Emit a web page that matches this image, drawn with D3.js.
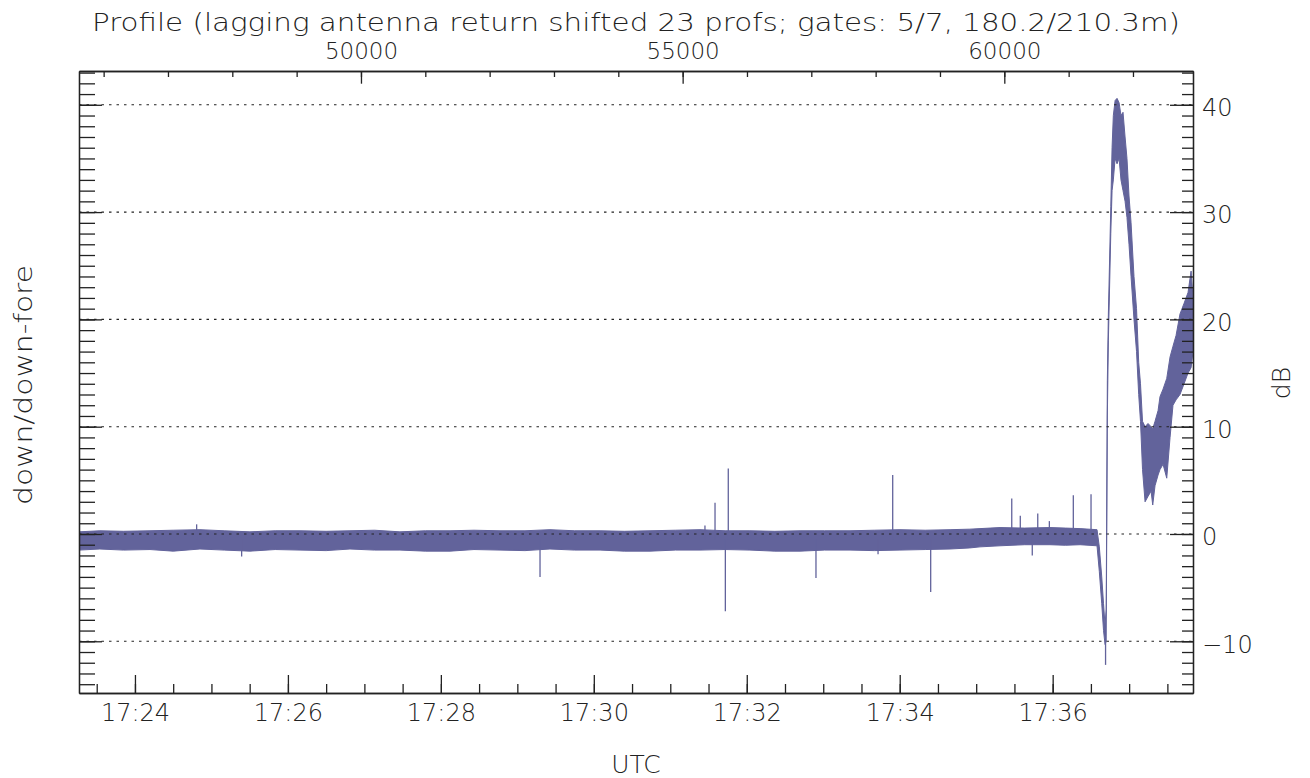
<!DOCTYPE html>
<html>
<head>
<meta charset="utf-8">
<script src="https://cdn.jsdelivr.net/npm/d3@7"></script>
<style>
  body { margin: 0; background: #fff; }
  svg text { font-family: 'DejaVu Sans', sans-serif; font-weight: 200; fill: #222; }
  .axis path, .axis line { stroke: #222; stroke-width: 1.3; }
  .axis text { font-size: 24px; font-family: 'DejaVu Sans', sans-serif; font-weight: 200; fill: #222; }
  .axis.top text { font-size: 23px; }
</style>
</head>
<body>
<svg width="1310" height="778"></svg>
<script>
// time in seconds after 17:00:00 UTC, values in dB
const timeDomain = [1396.1, 2270.1]
const profDomain = [45617, 62933]
const dbDomain = [-14.82, 43.15]

// envelope of the noisy trace
const bandTime = [1396.1, 1412.5, 1431, 1451.8, 1470, 1491.0, 1510, 1530.2, 1550, 1569.5, 1590, 1608.7, 1628, 1647.9, 1668,
  1687.2, 1706, 1726.4, 1746, 1765.6, 1785, 1804.9, 1824, 1844.1, 1864, 1883.3, 1903, 1922.5, 1942, 1961.8, 1981,
  2001.0, 2020, 2040.2, 2060, 2079.5, 2095, 2103.0, 2118.7, 2138, 2157.9, 2170, 2181.5, 2194.8,
  2196.6, 2198.5, 2199.9, 2201.1, 2202.0, 2202.9, 2203.7, 2205.6, 2206.6, 2207.6, 2209.0, 2210.5, 2212.1, 2213.6,
  2215.2, 2216.8, 2218.3, 2219.9, 2221.5, 2223.8, 2225.8, 2227.5, 2228.9, 2230.5, 2232.5, 2234.8, 2237.2, 2238.5,
  2240.3, 2242.7, 2244.2, 2246.6, 2249.5, 2252.1, 2254.4, 2256.8, 2259.9, 2263.1, 2266.2, 2268.6, 2270.1]
const bandLow = [-1.5, -1.4, -1.5, -1.45, -1.6, -1.4, -1.5, -1.6, -1.45, -1.5, -1.55, -1.4, -1.5, -1.5, -1.6,
  -1.6, -1.45, -1.5, -1.55, -1.4, -1.5, -1.5, -1.6, -1.6, -1.5, -1.5, -1.45, -1.5, -1.6, -1.6, -1.5,
  -1.5, -1.55, -1.5, -1.45, -1.4, -1.3, -1.2, -1.1, -1.0, -1.0, -1.05, -1.0, -1.1,
  -3.5, -6.5, -9, -10.3, -10, 11, 18, 28, 32, 33, 35, 34.5, 35, 33,
  32, 31, 29.5, 27, 24, 20, 17, 13, 10.5, 6, 3, 3.5, 4, 2.7,
  4.5, 5.5, 6, 6.5, 5.2, 9, 12, 12.5, 13, 14, 15, 15.5, 17]
const bandHigh = [0.2, 0.3, 0.25, 0.3, 0.35, 0.4, 0.3, 0.2, 0.3, 0.3, 0.25, 0.3, 0.35, 0.2, 0.3,
  0.3, 0.35, 0.3, 0.3, 0.4, 0.3, 0.3, 0.25, 0.3, 0.35, 0.4, 0.3, 0.3, 0.25, 0.3, 0.3,
  0.3, 0.35, 0.4, 0.35, 0.4, 0.45, 0.5, 0.6, 0.55, 0.6, 0.55, 0.5, 0.4,
  -1.2, -4, -6.5, -8.5, -7, 14.3, 20.5, 30.5, 36, 39, 40.4, 40.6, 40.2, 39,
  39.3, 37, 35, 31.5, 29, 24, 21, 16, 14, 10.5, 10, 10.3, 10, 9.8,
  10.5, 11.5, 12.8, 13.5, 14.5, 16.5, 17.5, 18.5, 20.5, 21.5, 22.5, 24.5, 22]

// isolated spikes: time, start value, end value
const spikeTime = [1488.4, 1523.7, 1757.8, 1887.2, 1895.1, 1903.2, 1905.5, 1974.3, 2023.0, 2034.5, 2064.3,
  2127.9, 2134.6, 2144.0, 2148.3, 2157.4, 2176.2, 2190.1, 2201.5]
const spikeFrom = [-0.5, -0.5, -0.5, -0.5, -0.5, -0.5, -0.5, -0.5, -0.5, -0.5, -0.5,
  -0.2, -0.2, -0.2, -0.2, -0.2, -0.2, -0.2, -10]
const spikeTo = [0.9, -2.1, -4.0, 0.8, 2.9, -7.2, 6.1, -4.1, -1.9, 5.5, -5.4,
  3.3, 1.7, -2.0, 1.9, 1.2, 3.6, 3.7, -12.2]

const dbMajor = [-10, 0, 10, 20, 30, 40]
const profMajor = [50000, 55000, 60000]

const titleText = 'Profile (lagging antenna return shifted 23 profs; gates: 5/7, 180.2/210.3m)'
const xTitle = 'UTC'
const yTitleLeft = 'down/down-fore'
const yTitleRight = 'dB'

const svg = d3.select('svg')
const m = { left: 79, right: 1193, top: 71, bottom: 693 }
const lineColor = '#62639b'

const toDate = s => new Date(Date.UTC(2000, 0, 1, 17, 0, 0) + s * 1000)

const x = d3.scaleUtc().domain(timeDomain.map(toDate)).range([m.left, m.right])
const xp = d3.scaleLinear().domain(profDomain).range([m.left, m.right])
const y = d3.scaleLinear().domain(dbDomain).range([m.bottom, m.top])

const band = bandTime.map((t, i) => ({ t: toDate(t), lo: bandLow[i], hi: bandHigh[i] }))

const area = d3.area()
  .x(d => x(d.t))
  .y0(d => y(d.lo))
  .y1(d => y(d.hi))

svg.append('defs').append('clipPath').attr('id', 'clip')
  .append('rect')
  .attr('x', m.left).attr('y', m.top)
  .attr('width', m.right - m.left).attr('height', m.bottom - m.top)

const plot = svg.append('g').attr('clip-path', 'url(#clip)')

plot.append('path')
  .datum(band)
  .attr('d', area)
  .attr('fill', lineColor)
  .attr('stroke', lineColor)
  .attr('stroke-width', 1)
  .attr('stroke-linejoin', 'round')

plot.selectAll('line.spike')
  .data(spikeTime)
  .enter().append('line')
  .attr('class', 'spike')
  .attr('x1', d => x(toDate(d)))
  .attr('x2', d => x(toDate(d)))
  .attr('y1', (d, i) => y(spikeFrom[i]))
  .attr('y2', (d, i) => y(spikeTo[i]))
  .attr('stroke', lineColor)
  .attr('stroke-width', 1.3)

// dotted grid on top of the trace
svg.append('g')
  .selectAll('line')
  .data(dbMajor)
  .enter().append('line')
  .attr('x1', m.left).attr('x2', m.right)
  .attr('y1', d => y(d)).attr('y2', d => y(d))
  .attr('stroke', '#222')
  .attr('stroke-width', 1.1)
  .attr('stroke-dasharray', '2.5,5')

// bottom axis (time)
svg.append('g').attr('class', 'axis')
  .attr('transform', `translate(0,${m.bottom})`)
  .call(d3.axisBottom(x).ticks(d3.utcSecond.every(30)).tickSize(-9).tickSizeOuter(0).tickFormat(''))
svg.append('g').attr('class', 'axis')
  .attr('transform', `translate(0,${m.bottom})`)
  .call(d3.axisBottom(x).ticks(d3.utcMinute.every(2)).tickSize(-18).tickSizeOuter(0)
    .tickPadding(11).tickFormat(d3.utcFormat('%H:%M')))

// top axis (profile number)
svg.append('g').attr('class', 'axis')
  .attr('transform', `translate(0,${m.top})`)
  .call(d3.axisTop(xp).tickValues(d3.range(46000, 63000, 1000)).tickSize(-6).tickSizeOuter(0).tickFormat(''))
svg.append('g').attr('class', 'axis top')
  .attr('transform', `translate(0,${m.top})`)
  .call(d3.axisTop(xp).tickValues(profMajor).tickSize(-12.7).tickSizeOuter(0)
    .tickPadding(12.5).tickFormat(d3.format('d')))

// left axis
svg.append('g').attr('class', 'axis')
  .attr('transform', `translate(${m.left},0)`)
  .call(d3.axisLeft(y).tickValues(d3.range(-14, 44, 1)).tickSize(-16).tickSizeOuter(0).tickFormat(''))
svg.append('g').attr('class', 'axis')
  .attr('transform', `translate(${m.left},0)`)
  .call(d3.axisLeft(y).tickValues(dbMajor).tickSize(-23).tickSizeOuter(0).tickFormat(''))

// right axis
svg.append('g').attr('class', 'axis')
  .attr('transform', `translate(${m.right},0)`)
  .call(d3.axisRight(y).tickValues(d3.range(-14, 44, 1)).tickSize(-11).tickSizeOuter(0).tickFormat(''))
svg.append('g').attr('class', 'axis right')
  .attr('transform', `translate(${m.right},0)`)
  .call(d3.axisRight(y).tickValues(dbMajor).tickSize(-23).tickSizeOuter(0).tickPadding(9))
svg.selectAll('.right text').attr('dy', '0.45em')

svg.append('text')
  .attr('x', 636).attr('y', 31)
  .attr('text-anchor', 'middle')
  .attr('font-size', 25)
  .attr('textLength', 1088)
  .attr('lengthAdjust', 'spacingAndGlyphs')
  .text(titleText)

svg.append('text')
  .attr('x', 636).attr('y', 773)
  .attr('text-anchor', 'middle')
  .attr('font-size', 25)
  .text(xTitle)

svg.append('text')
  .attr('transform', 'translate(32,385) rotate(-90)')
  .attr('text-anchor', 'middle')
  .attr('font-size', 25)
  .attr('textLength', 240)
  .attr('lengthAdjust', 'spacingAndGlyphs')
  .text(yTitleLeft)

svg.append('text')
  .attr('transform', 'translate(1290,383) rotate(-90)')
  .attr('text-anchor', 'middle')
  .attr('font-size', 25)
  .text(yTitleRight)
</script>
</body>
</html>
